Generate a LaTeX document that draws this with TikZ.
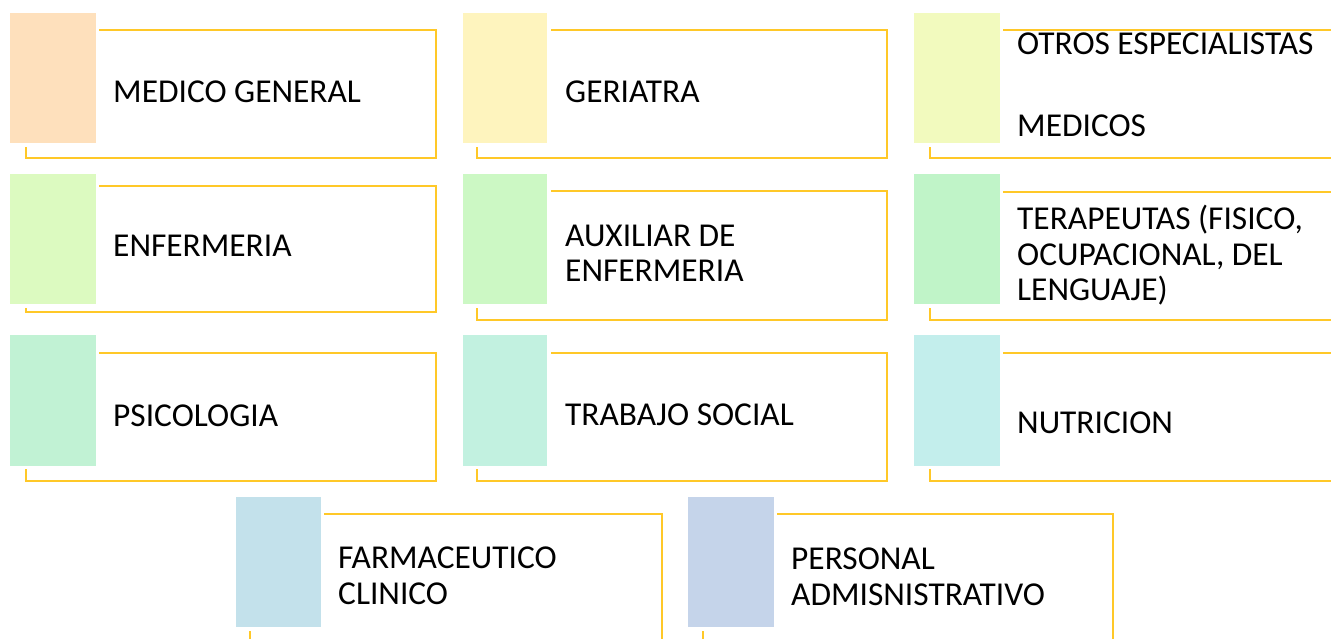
\documentclass[tikz,border=0pt]{standalone}
\usepackage{fontspec}
\setmainfont{Carlito}
\definecolor{frame}{RGB}{255,200,40}
\definecolor{cA}{RGB}{254,224,188}
\definecolor{cB}{RGB}{254,244,190}
\definecolor{cC}{RGB}{242,250,190}
\definecolor{cD}{RGB}{220,250,192}
\definecolor{cE}{RGB}{204,248,196}
\definecolor{cF}{RGB}{192,244,200}
\definecolor{cG}{RGB}{193,242,212}
\definecolor{cH}{RGB}{194,241,224}
\definecolor{cI}{RGB}{195,238,236}
\definecolor{cJ}{RGB}{195,225,235}
\definecolor{cK}{RGB}{197,212,234}
\tikzset{
  framepath/.style={draw=frame, line width=1.5pt},
  tile/.style={fill=#1, draw=white, line width=0.8pt},
  label/.style={anchor=base west, inner sep=0pt, align=left, text=black,
    font=\fontsize{33.4}{35.5}\selectfont}
}
\begin{document}
\begin{tikzpicture}[x=1pt,y=-1pt]
\useasboundingbox (0,0) rectangle (1331,639);
\clip (0,0) rectangle (1331,639);
\fill[white] (0,0) rectangle (1331,639);
% Row 1
\draw[framepath] (99,30) -- (436,30) -- (436,158) -- (26,158) -- (26,147);
\draw[tile=cA] (9,12) rectangle (96,143);
\node[label] (t1) at (113,103) {MEDICO GENERAL};
\draw[framepath] (551,30) -- (887,30) -- (887,158) -- (477,158) -- (477,147);
\draw[tile=cB] (462,12) rectangle (547,143);
\node[label] (t2) at (565,103) {GERIATRA};
\draw[framepath] (1003,30) -- (1345,30) (1345,158) -- (930,158) -- (930,147);
\draw[tile=cC] (913,12) rectangle (1000,143);
\node[label] (t3) at (1017,137) {OTROS ESPECIALISTAS\\[46.5pt]MEDICOS};
% Row 2
\draw[framepath] (99,186) -- (436,186) -- (436,312) -- (26,312) -- (26,308);
\draw[tile=cD] (9,173) rectangle (96,304);
\node[label] (t4) at (113,257) {ENFERMERIA};
\draw[framepath] (551,191) -- (887,191) -- (887,320) -- (477,320) -- (477,308);
\draw[tile=cE] (462,173) rectangle (547,304);
\node[label] (t5) at (565,282) {AUXILIAR DE\\ENFERMERIA};
\draw[framepath] (1003,192) -- (1345,192) (1345,320) -- (930,320) -- (930,308);
\draw[tile=cF] (913,173) rectangle (1000,304);
\node[label] (t6) at (1017,300.5) {TERAPEUTAS (FISICO,\\OCUPACIONAL, DEL\\LENGUAJE)};
% Row 3
\draw[framepath] (99,353) -- (436,353) -- (436,481) -- (26,481) -- (26,469);
\draw[tile=cG] (9,334) rectangle (96,466);
\node[label] (t7) at (113,426) {PSICOLOGIA};
\draw[framepath] (551,353) -- (887,353) -- (887,481) -- (477,481) -- (477,469);
\draw[tile=cH] (462,334) rectangle (547,466);
\node[label] (t8) at (565,425) {TRABAJO SOCIAL};
\draw[framepath] (1003,353) -- (1345,353) (1345,481) -- (930,481) -- (930,469);
\draw[tile=cI] (913,334) rectangle (1000,466);
\node[label] (t9) at (1017,433) {NUTRICION};
% Row 4
\draw[framepath] (324,514) -- (662,514) -- (662,650) (250,650) -- (250,631);
\draw[tile=cJ] (235,496) rectangle (321,627);
\node[label] (t10) at (338,604) {FARMACEUTICO\\CLINICO};
\draw[framepath] (777,514) -- (1113,514) -- (1113,650) (703,650) -- (703,631);
\draw[tile=cK] (687,496) rectangle (774,627);
\node[label] (t11) at (791,605) {PERSONAL\\ADMISNISTRATIVO};
\end{tikzpicture}
\end{document}
